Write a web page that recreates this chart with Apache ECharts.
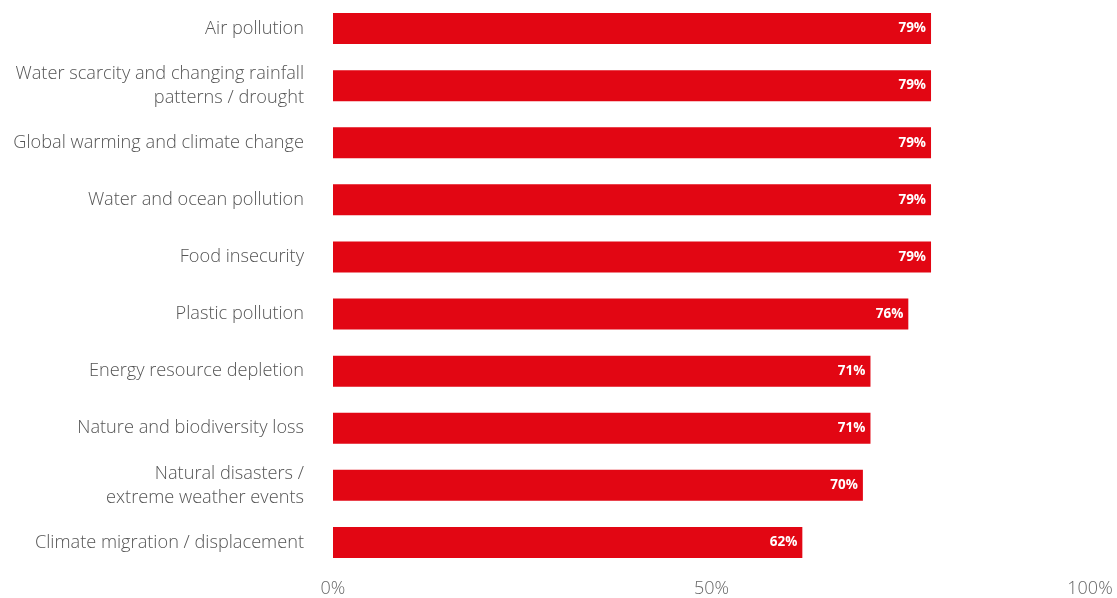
<!DOCTYPE html>
<html>
<head>
<meta charset="utf-8">
<script src="https://cdn.jsdelivr.net/npm/echarts@6/dist/echarts.min.js"></script>
<style>html,body{margin:0;padding:0;background:#fff;}#c{width:1117px;height:598px;}</style>
</head>
<body>
<div id="c"></div>
<script>
const categories = [
  "Air pollution",
  "Water scarcity and changing rainfall\npatterns / drought",
  "Global warming and climate change",
  "Water and ocean pollution",
  "Food insecurity",
  "Plastic pollution",
  "Energy resource depletion",
  "Nature and biodiversity loss",
  "Natural disasters /\nextreme weather events",
  "Climate migration / displacement"
];
const values = [79, 79, 79, 79, 79, 76, 71, 71, 70, 62];
const xTicks = [0, 50, 100];

const chart = echarts.init(document.getElementById('c'));
chart.setOption({
  animation: false,
  grid: { left: 333, right: 27, top: 0, bottom: 26, containLabel: false },
  xAxis: {
    type: 'value', min: 0, max: 100, interval: 50,
    axisLine: { show: false }, axisTick: { show: false }, splitLine: { show: false },
    axisLabel: { formatter: v => xTicks.includes(v) ? v + '%' : '', color: '#666', fontSize: 18, fontFamily: 'Open Sans', fontWeight: 300, margin: 9 }
  },
  yAxis: {
    type: 'category', inverse: true, data: categories,
    axisLine: { show: false }, axisTick: { show: false },
    axisLabel: { color: '#555', fontSize: 18.2, fontFamily: 'Open Sans', fontWeight: 300, lineHeight: 24, margin: 29, align: 'right' }
  },
  series: [{
    type: 'bar', data: values, barWidth: 31,
    itemStyle: { color: '#e20613' },
    label: { show: true, position: 'insideRight', formatter: '{c}%', color: '#fff', fontWeight: 'bold', fontSize: 13.5, fontFamily: 'Open Sans', distance: 5 }
  }]
});
</script>
</body>
</html>
